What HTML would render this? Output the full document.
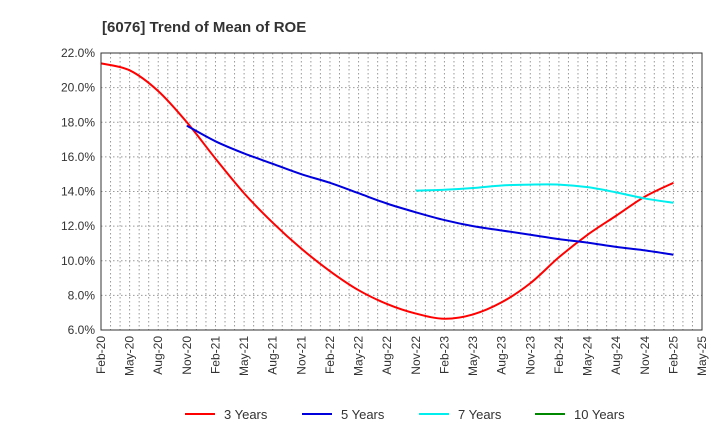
<!DOCTYPE html>
<html><head><meta charset="utf-8"><style>
body{margin:0;background:#fff;font-family:"Liberation Sans",sans-serif}
</style></head><body>
<svg width="720" height="440" id="c" xmlns="http://www.w3.org/2000/svg" font-family="Liberation Sans, sans-serif">
<text x="102" y="32" font-size="15" font-weight="bold" fill="#333">[6076]  Trend of Mean of ROE</text>
<g id="grid"></g><g id="series"></g><g id="axes"></g><g id="legend"></g>
</svg>
<script>
const quarterLabels=["Feb-20","May-20","Aug-20","Nov-20","Feb-21","May-21","Aug-21","Nov-21","Feb-22","May-22","Aug-22","Nov-22","Feb-23","May-23","Aug-23","Nov-23","Feb-24","May-24","Aug-24","Nov-24","Feb-25","May-25"];
const yTicks=[6,8,10,12,14,16,18,20,22];
const s3=[21.4,21.0,19.8,18.0,15.9,13.9,12.2,10.7,9.4,8.3,7.5,6.95,6.65,6.9,7.6,8.7,10.2,11.5,12.6,13.7,14.5];
const s5=[null,null,null,17.8,16.9,16.2,15.6,15.0,14.5,13.9,13.3,12.8,12.35,12.0,11.75,11.5,11.25,11.05,10.8,10.6,10.35];
const s7=[null,null,null,null,null,null,null,null,null,null,null,14.05,14.1,14.2,14.35,14.4,14.4,14.25,13.95,13.6,13.35];
const s10=[];
const L=101,R=702,T=53,B=330,NS="http://www.w3.org/2000/svg";
const months=(quarterLabels.length-1)*3;
const x=i=>L+(R-L)*i*3/months;
const y=v=>B-(B-T)*(v-6)/16;
function mk(t,a,p){const e=document.createElementNS(NS,t);for(const k in a)e.setAttribute(k,a[k]);p.appendChild(e);return e;}
const g=document.getElementById('grid'),ax=document.getElementById('axes'),se=document.getElementById('series'),lg=document.getElementById('legend');
for(let m=1;m<months;m++){const X=L+(R-L)*m/months;const l=mk('line',{x1:X,x2:X,y1:T,y2:B,stroke:'#999','stroke-dasharray':'1.5,2.5','stroke-width':1},g);

}
yTicks.forEach(v=>{const l=mk('line',{x1:L,x2:R,y1:y(v),y2:y(v),stroke:'#999','stroke-dasharray':'1.5,2.5'},g);


const t=mk('text',{x:L-6,y:y(v)+4,'text-anchor':'end','font-size':12,fill:'#333'},ax);t.textContent=v.toFixed(1)+'%';

});
const fr=mk('rect',{x:L,y:T,width:R-L,height:B-T,fill:'none',stroke:'#333'},ax);


quarterLabels.forEach((s,i)=>{const t=mk('text',{transform:`translate(${x(i)+4},${B+6}) rotate(-90)`,'text-anchor':'end','font-size':12,fill:'#333'},ax);t.textContent=s;

});
function path(arr){const p=[];arr.forEach((v,i)=>{if(v!=null)p.push([x(i),y(v)]);});if(!p.length)return'';
let d=`M${p[0][0]},${p[0][1]}`;for(let i=0;i<p.length-1;i++){const p0=p[i-1]||p[i],p1=p[i],p2=p[i+1],p3=p[i+2]||p2;
d+=` C${p1[0]+(p2[0]-p0[0])/6},${p1[1]+(p2[1]-p0[1])/6} ${p2[0]-(p3[0]-p1[0])/6},${p2[1]-(p3[1]-p1[1])/6} ${p2[0]},${p2[1]}`;}return d;}
const ser=[[s3,'#ff0000','3 Years',185],[s5,'#0000dd','5 Years',302],[s7,'#00eeee','7 Years',419],[s10,'#008800','10 Years',535]];
ser.forEach(([a,c,n,lx])=>{const d=path(a);if(d){const p=mk('path',{d,fill:'none',stroke:c,'stroke-width':2},se);

}
const l=mk('line',{x1:lx,x2:lx+30,y1:414,y2:414,stroke:c,'stroke-width':2},lg);


const t=mk('text',{x:lx+39,y:419,'font-size':13,fill:'#333'},lg);t.textContent=n;

});
</script>
</body></html>
